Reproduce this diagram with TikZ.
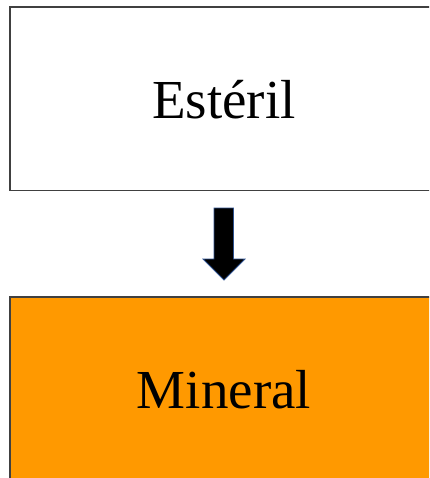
\documentclass[tikz,border=0pt]{standalone}
\usepackage{fontspec}
\setmainfont{Liberation Serif}
\definecolor{boxline}{HTML}{404040}
\definecolor{oreorange}{HTML}{FF9900}
\definecolor{arrowedge}{HTML}{2F528F}
\begin{document}
\begin{tikzpicture}[x=1pt,y=-1pt,
  panel/.style={draw=boxline,line width=1.5pt},
  lbl/.style={anchor=base,inner sep=0pt,font=\fontsize{55}{60}\selectfont},
  downarrow/.style={fill=black,draw=arrowedge,line width=0.8pt,line join=miter}]
\useasboundingbox (0,0) rectangle (429,478);
\clip (0,0) rectangle (429,478);
\fill[white] (0,0) rectangle (429,478);
\draw[panel] (10,7) rectangle (440,190.5) coordinate (topbox);
\draw[panel,fill=oreorange] (10,297) rectangle (440,495) coordinate (botbox);
\node[lbl] (esteril) at (224,119) {Estéril};
\node[lbl] (mineral) at (224,408) {Mineral};
\draw[downarrow] (214,208) -- (233.5,208) -- (233.5,259) -- (245,259) -- (224,280) -- (203,259) -- (214,259) -- cycle;
\end{tikzpicture}
\end{document}
